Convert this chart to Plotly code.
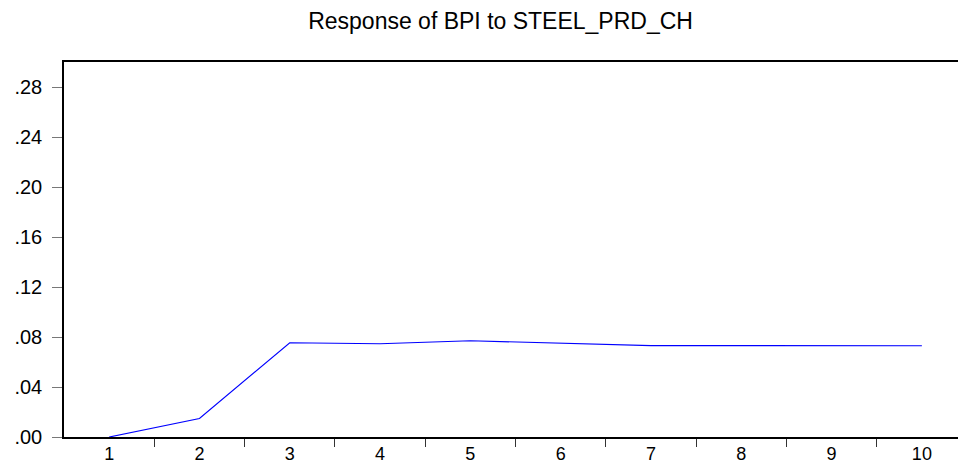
import plotly.graph_objects as go

# Impulse response of BPI to a shock in STEEL_PRD_CH, periods 1..10
periods = [1, 2, 3, 4, 5, 6, 7, 8, 9, 10]
response = [0.0, 0.0148, 0.0754, 0.0746, 0.0770, 0.0751, 0.0731, 0.0731, 0.0730, 0.0730]

y_ticks = [0.00, 0.04, 0.08, 0.12, 0.16, 0.20, 0.24, 0.28]
y_tick_text = [".00", ".04", ".08", ".12", ".16", ".20", ".24", ".28"]

title_text = "Response of BPI to STEEL_PRD_CH"

FONT = "Liberation Sans, Arial, sans-serif"

fig = go.Figure()
fig.add_trace(go.Scatter(
    x=periods,
    y=response,
    mode="lines",
    line=dict(color="#0000FF", width=1.2),
    showlegend=False,
    hoverinfo="x+y",
))

fig.update_layout(
    width=958,
    height=465,
    margin=dict(l=64, r=0, t=62, b=28),
    paper_bgcolor="white",
    plot_bgcolor="white",
    font=dict(family=FONT, color="black"),
    title=dict(
        text=title_text,
        x=0.5225,
        xref="container",
        xanchor="center",
        y=0.955,
        yref="container",
        yanchor="middle",
        font=dict(family=FONT, size=23, color="black"),
    ),
)

fig.update_xaxes(
    range=[0.5, 10.4],
    automargin=False,
    tickmode="array",
    tickvals=periods,
    ticktext=[str(p) for p in periods],
    ticks="",
    ticklabelstandoff=0,
    tickfont=dict(family=FONT, size=18, color="black"),
    showgrid=False,
    zeroline=False,
    showline=True,
    linecolor="black",
    linewidth=1.5,
    mirror=True,
    minor=dict(
        tickmode="array",
        tickvals=[1.5, 2.5, 3.5, 4.5, 5.5, 6.5, 7.5, 8.5, 9.5],
        ticks="outside",
        ticklen=8,
        tickwidth=1,
        tickcolor="#333333",
        showgrid=False,
    ),
)

fig.update_yaxes(
    range=[0, 0.30],
    automargin=False,
    tickmode="array",
    tickvals=y_ticks,
    ticktext=y_tick_text,
    ticks="outside",
    ticklen=10,
    tickwidth=1,
    tickcolor="#777777",
    ticklabelstandoff=6,
    tickfont=dict(family=FONT, size=20, color="black"),
    showgrid=False,
    zeroline=False,
    showline=True,
    linecolor="black",
    linewidth=1.5,
    mirror=False,
)

fig.write_html("out.html")
